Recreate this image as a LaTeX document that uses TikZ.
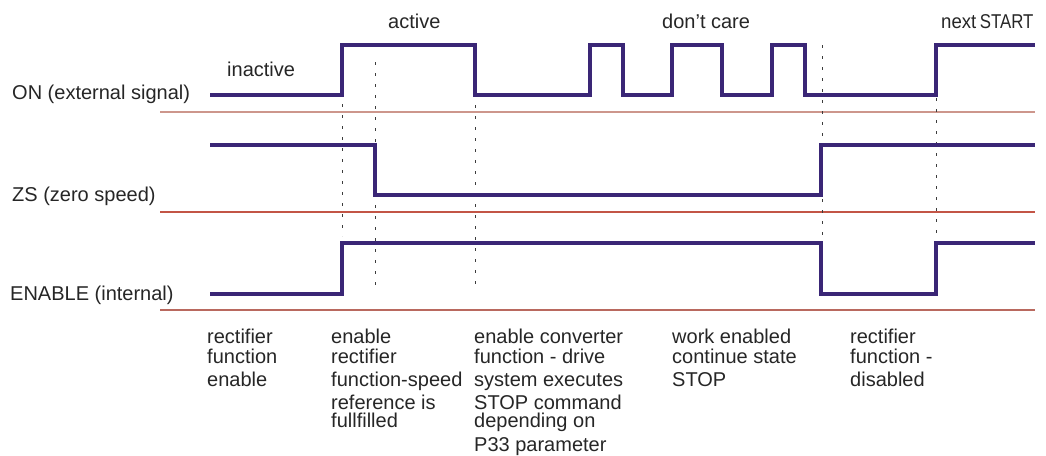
\documentclass[tikz,border=0pt]{standalone}
\usepackage{fontspec}
\usepackage{graphicx}
\setmainfont{Liberation Sans}
\definecolor{sig}{RGB}{58,38,118}
\definecolor{rulea}{RGB}{205,150,140}
\definecolor{ruleb}{RGB}{195,85,70}
\definecolor{rulec}{RGB}{185,105,95}
\definecolor{dotc}{RGB}{60,60,60}
\tikzset{
  wave/.style={draw=sig, line width=4pt, line join=miter},
  baseline rule/.style={line width=1.2pt},
  marker/.style={draw=dotc, line width=1pt, dash pattern=on 2.5pt off 8.5pt},
  lbl/.style={inner sep=0pt, anchor=base west, font=\fontsize{20}{20}\selectfont, text=black!85},
  desc/.style={lbl, align=left},
}
\begin{document}
\begin{tikzpicture}[x=1pt,y=-1pt]
\useasboundingbox (0,0) rectangle (1046,455);
% separator rules
\draw[baseline rule, rulea] (160,112) -- (1035,112);
\draw[baseline rule, ruleb] (160,212) -- (1035,212);
\draw[baseline rule, rulec] (160,310) -- (1035,310);
% dotted markers
\draw[marker] (342,104) -- (342,236);
\draw[marker] (375,62) -- (375,287);
\draw[marker] (475,105) -- (475,289);
\draw[marker] (822,45) -- (822,239);
\draw[marker] (936,98) -- (936,239);
% waveforms
\draw[wave] (210,94.5) -- (342.3,94.5) -- (342.3,45) -- (475.3,45) -- (475.3,94.5)
  -- (590,94.5) -- (590,45) -- (623,45) -- (623,94.5)
  -- (672.3,94.5) -- (672.3,45) -- (722,45) -- (722,94.5)
  -- (771.7,94.5) -- (771.7,45) -- (805,45) -- (805,94.5)
  -- (936,94.5) -- (936,45) -- (1035,45);
\draw[wave] (210,144.5) -- (375.3,144.5) -- (375.3,194.5) -- (821.3,194.5) -- (821.3,144.5) -- (1035,144.5);
\draw[wave] (210,293.7) -- (342.3,293.7) -- (342.3,243.3) -- (821.3,243.3) -- (821.3,293.7) -- (935.5,293.7) -- (935.5,243.3) -- (1035,243.3);
% signal names
\node[lbl] (on) at (12,99.5) {ON (external signal)};
\node[lbl] (zs) at (12,201.5) {ZS (zero speed)};
\node[lbl] (en) at (10,300.5) {ENABLE (internal)};
% state labels
\node[lbl] (inact) at (227,76.5) {inactive};
\node[lbl] (act) at (388,28.3) {active};
\node[lbl] (dc) at (662,28.3) {don’t care};
\node[lbl] (nx) at (941,28.3) {\scalebox{0.93}[1]{next}\hspace{3.5pt}\scalebox{0.84}[1]{START}};
% descriptions (base anchor = baseline of the last line)
\node[desc] (d1) at (207,386.7) {rectifier\\function\\[3.7pt]enable};
\node[desc] (d2) at (331,427.3) {enable\\rectifier\\[3.7pt]function-speed\\[2.3pt]reference is\\[-1.7pt]fullfilled};
\node[desc] (d3) at (474,451.7) {enable converter\\function - drive\\[3.7pt]system executes\\[2.3pt]STOP command\\[-1.7pt]depending on\\[4.4pt]P33 parameter};
\node[desc] (d4) at (672,386.7) {work enabled\\continue state\\[3.7pt]STOP};
\node[desc] (d5) at (850,386.7) {rectifier\\function -\\[3.7pt]disabled};
\end{tikzpicture}
\end{document}
